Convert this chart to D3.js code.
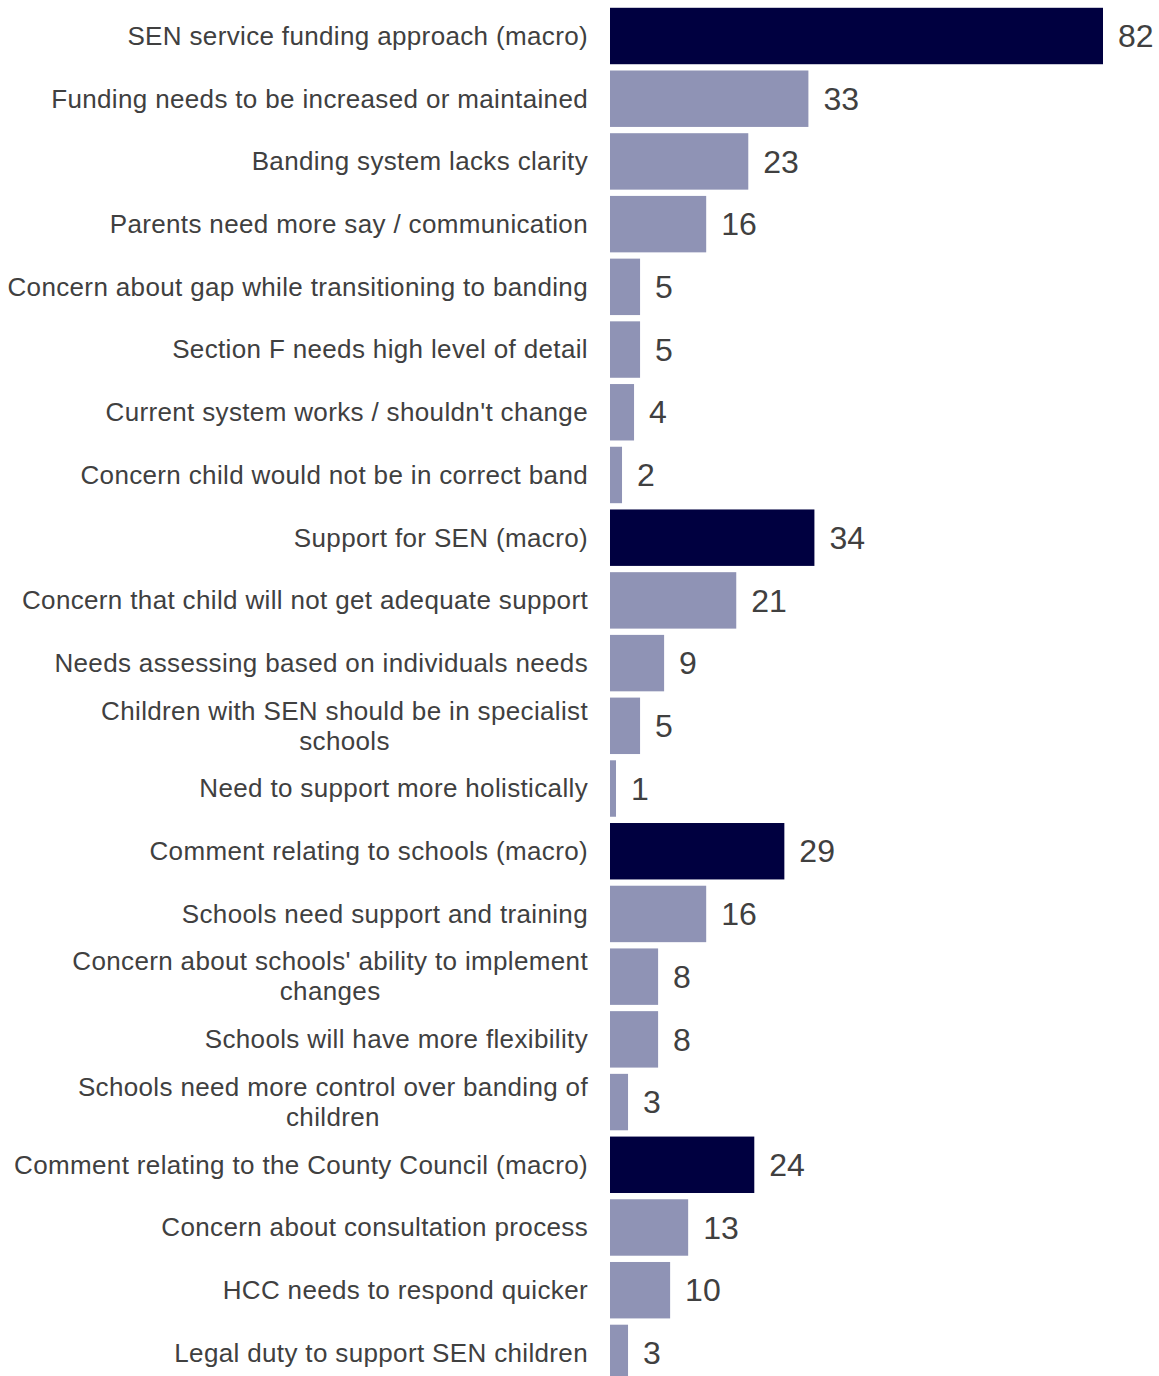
<!DOCTYPE html>
<html>
<head>
<meta charset="utf-8">
<script src="https://cdn.jsdelivr.net/npm/d3@7"></script>
<style>
  html, body { margin: 0; padding: 0; background: #ffffff; }
  svg { display: block; }
</style>
</head>
<body>
<svg id="chart" width="1159" height="1376"></svg>
<script>
const categories = [
  ["SEN service funding approach (macro)"],
  ["Funding needs to be increased or maintained"],
  ["Banding system lacks clarity"],
  ["Parents need more say / communication"],
  ["Concern about gap while transitioning to banding"],
  ["Section F needs high level of detail"],
  ["Current system works / shouldn't change"],
  ["Concern child would not be in correct band"],
  ["Support for SEN (macro)"],
  ["Concern that child will not get adequate support"],
  ["Needs assessing based on individuals needs"],
  ["Children with SEN should be in specialist", "schools"],
  ["Need to support more holistically"],
  ["Comment relating to schools (macro)"],
  ["Schools need support and training"],
  ["Concern about schools' ability to implement", "changes"],
  ["Schools will have more flexibility"],
  ["Schools need more control over banding of", "children"],
  ["Comment relating to the County Council (macro)"],
  ["Concern about consultation process"],
  ["HCC needs to respond quicker"],
  ["Legal duty to support SEN children"]
];
const values = [82, 33, 23, 16, 5, 5, 4, 2, 34, 21, 9, 5, 1, 29, 16, 8, 8, 3, 24, 13, 10, 3];
const isMacro = [true, false, false, false, false, false, false, false, true, false, false, false, false, true, false, false, false, false, true, false, false, false];

const darkColor = "#000040";
const lightColor = "#8f93b5";
const textColor = "#404040";

const svg = d3.select("#chart");
const idx = d3.range(values.length);

const x = d3.scaleLinear().domain([0, 82]).range([610, 1103]);
const y = d3.scaleBand().domain(idx).range([4.65, 4.65 + 62.71 * 22]).paddingInner(0.1).paddingOuter(0.05);

svg.selectAll("rect.bar").data(idx).join("rect")
  .attr("class", "bar")
  .attr("x", x(0))
  .attr("y", i => y(i))
  .attr("width", i => x(values[i]) - x(0))
  .attr("height", y.bandwidth())
  .attr("fill", i => isMacro[i] ? darkColor : lightColor);

svg.selectAll("text.val").data(idx).join("text")
  .attr("class", "val")
  .attr("x", i => x(values[i]) + 15)
  .attr("y", i => y(i) + y.bandwidth() / 2)
  .attr("dy", "0.35em")
  .attr("font-family", "'Liberation Sans', Arial, sans-serif")
  .attr("font-size", 32)
  .attr("fill", textColor)
  .text(i => values[i]);

const labelRight = 588;
const lineH = 30;
idx.forEach(i => {
  const lines = categories[i];
  const cy = y(i) + y.bandwidth() / 2;
  const g = svg.append("g");
  const n = lines.length;
  const texts = lines.map((ln, k) => g.append("text")
    .attr("y", cy + (k - (n - 1) / 2) * lineH)
    .attr("dy", "0.34em")
    .attr("font-family", "'Liberation Sans', Arial, sans-serif")
    .attr("font-size", 26)
    .attr("letter-spacing", "0.35px")
    .attr("fill", textColor)
    .text(ln));
  const widths = texts.map(t => t.node().getComputedTextLength());
  const maxW = Math.max(...widths);
  const center = labelRight - maxW / 2;
  texts.forEach(t => t.attr("x", center).attr("text-anchor", "middle"));
});
</script>
</body>
</html>
